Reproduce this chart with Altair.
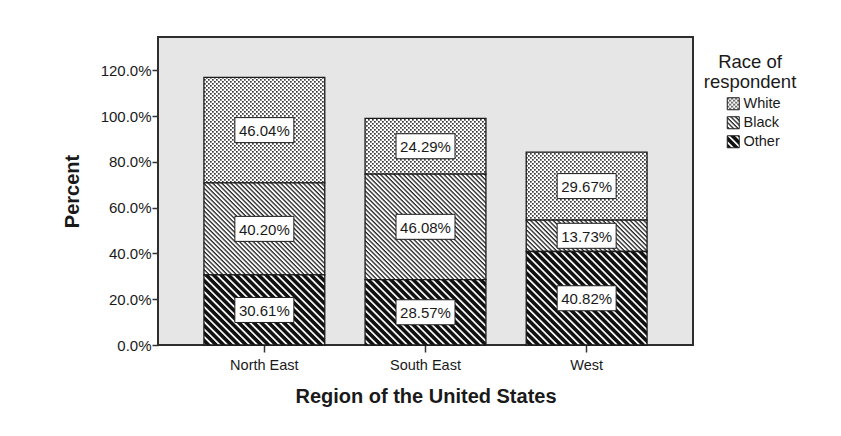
import altair as alt
import jinja2
import pandas as pd

# Percent of respondents by race within each region (SPSS-style stacked bars)
regions = ["North East", "South East", "West"]
races = ["White", "Black", "Other"]
white_pct = [46.04, 24.29, 29.67]
black_pct = [40.20, 46.08, 13.73]
other_pct = [30.61, 28.57, 40.82]
y_ticks = [0, 20, 40, 60, 80, 100, 120]

# stacking order: Other at the bottom, White on top
stack_rank = {"Other": 0, "Black": 1, "White": 2}
series = {"White": white_pct, "Black": black_pct, "Other": other_pct}

rows = []
for race in races:
    for region, pct in zip(regions, series[race]):
        rows.append({"region": region, "race": race, "pct": pct, "rank": stack_rank[race]})
df = pd.DataFrame(rows)

FONT = "Liberation Sans"
INK = "#1a1a1a"

# fill patterns referenced from the colour scale (defined in the page template)
pattern_fills = ["url(#dots)", "url(#hatchLight)", "url(#hatchDark)"]

base = alt.Chart(df).transform_stack(
    stack="pct",
    groupby=["region"],
    as_=["y0", "y1"],
    sort=[alt.SortField("rank", order="ascending")],
)

x_enc = alt.X(
    "region:N",
    sort=regions,
    scale=alt.Scale(paddingInner=0.25, paddingOuter=0.285),
    axis=alt.Axis(
        title="Region of the United States",
        labelAngle=0,
        labelFontSize=14.5,
        labelColor=INK,
        labelPadding=6,
        tickSize=7,
        tickWidth=1.5,
        tickColor="#333",
        domain=False,
        titleFontSize=20,
        titleFontWeight="bold",
        titleColor=INK,
        titlePadding=15,
    ),
)

y_scale = alt.Scale(domain=[0, 134.5], nice=False, zero=True)

bars = base.mark_bar(stroke=INK, strokeWidth=1.3).encode(
    x=x_enc,
    y=alt.Y(
        "y0:Q",
        scale=y_scale,
        axis=alt.Axis(
            values=y_ticks,
            labelExpr="format(datum.value, '.1f') + '%'",
            title="Percent",
            labelFontSize=15,
            labelColor=INK,
            labelPadding=1,
            tickSize=6,
            tickWidth=1.5,
            tickColor="#333",
            domain=False,
            grid=False,
            titleFontSize=20,
            titleFontWeight="bold",
            titleColor=INK,
            titlePadding=18,
        ),
    ),
    y2="y1:Q",
    color=alt.Color(
        "race:N",
        scale=alt.Scale(domain=races, range=pattern_fills),
        legend=alt.Legend(
            title=["Race of", "respondent"],
            orient="none",
            legendX=546,
            legendY=16,
            titleFontSize=18.5,
            titleFontWeight="normal",
            titleColor=INK,
            titleAlign="center",
            titleAnchor="middle",
            titleLineHeight=20,
            titlePadding=5,
            labelFontSize=14.5,
            labelColor=INK,
            labelOffset=3,
            symbolType="square",
            symbolSize=144,
            symbolStrokeColor=INK,
            symbolStrokeWidth=1,
            symbolOffset=6,
            rowPadding=2,
            padding=0,
        ),
    ),
)

label_src = base.transform_calculate(
    mid="(datum.y0 + datum.y1) / 2",
    label="format(datum.pct, '.2f') + '%'",
)

boxes = label_src.mark_point(
    shape="M-1,-0.424L1,-0.424L1,0.424L-1,0.424Z",
    size=59 * 59,
    filled=True,
    fill="white",
    stroke=INK,
    strokeWidth=1,
    opacity=1,
).encode(x=alt.X("region:N", sort=regions), y=alt.Y("mid:Q", scale=y_scale))

texts = label_src.mark_text(font=FONT, fontSize=15, color=INK, baseline="middle", dy=1).encode(
    x=alt.X("region:N", sort=regions),
    y=alt.Y("mid:Q", scale=y_scale),
    text="label:N",
)

chart = (
    alt.layer(bars, boxes, texts)
    .properties(
        width=535,
        height=308,
        autosize=alt.AutoSizeParams(type="none"),
        padding={"left": 158, "top": 37, "right": 148, "bottom": 91},
        background="white",
    )
    .configure(font=FONT)
    .configure_view(fill="#e6e6e7", stroke="#2e2e2e", strokeWidth=2)
)

# page template: standard embed page plus the SVG fill patterns used by the bars
PAGE = jinja2.Template("""<!DOCTYPE html>
<html>
<head>
  <style>
    body { margin: 0; }
    #{{ output_div }}.vega-embed { width: 100%; display: flex; }
    #{{ output_div }}.vega-embed details,
    #{{ output_div }}.vega-embed details summary { position: relative; }
  </style>
  <script type="text/javascript" src="{{ base_url }}/vega@{{ vega_version }}"></script>
  <script type="text/javascript" src="{{ base_url }}/vega-lite@{{ vegalite_version }}"></script>
  <script type="text/javascript" src="{{ base_url }}/vega-embed@{{ vegaembed_version }}"></script>
</head>
<body>
  <svg width="0" height="0" style="position:absolute">
    <defs>
      <pattern id="dots" patternUnits="userSpaceOnUse" width="4" height="4">
        <rect width="4" height="4" fill="#ffffff"/>
        <rect x="0" y="0" width="1.7" height="1.7" fill="#3a3a3a"/>
        <rect x="2" y="2" width="1.7" height="1.7" fill="#3a3a3a"/>
      </pattern>
      <pattern id="hatchLight" patternUnits="userSpaceOnUse" width="3.2" height="3.2" patternTransform="rotate(45)">
        <rect width="3.2" height="3.2" fill="#ffffff"/>
        <rect width="3.2" height="1.3" fill="#222222"/>
      </pattern>
      <pattern id="hatchDark" patternUnits="userSpaceOnUse" width="5.3" height="5.3" patternTransform="rotate(45)">
        <rect width="5.3" height="5.3" fill="#ffffff"/>
        <rect width="5.3" height="3.6" fill="#111111"/>
      </pattern>
    </defs>
  </svg>
  <div id="{{ output_div }}"></div>
  <script>
    (function(vegaEmbed) {
      var spec = {{ spec }};
      var embedOpt = {{ embed_options }};
      function showError(el, error){
        el.innerHTML = ('<div style="color:red;"><p>JavaScript Error: ' + error.message + '</p></div>');
        throw error;
      }
      const el = document.getElementById('{{ output_div }}');
      vegaEmbed("#{{ output_div }}", spec, embedOpt).catch(error => showError(el, error));
    })(vegaEmbed);
  </script>
</body>
</html>
""")

chart.save("out.html", embed_options={"renderer": "svg", "actions": False}, template=PAGE)
